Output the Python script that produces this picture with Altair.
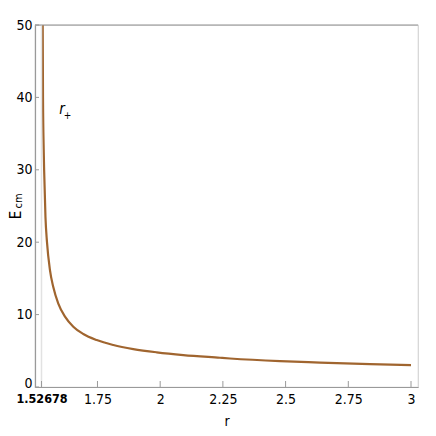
import altair as alt
import pandas as pd

# ---- data ----
r_vals = [1.5316, 1.5328, 1.5356, 1.5373, 1.5426, 1.5487, 1.5607, 1.5738,
          1.5938, 1.6205, 1.6536, 1.6934, 1.7469, 1.8131, 1.8928, 1.9861,
          2.0922, 2.2385, 2.2784, 2.4778, 2.6372, 2.8366, 3.0]
e_vals = [50, 40, 32.8, 30, 23.5, 20, 16.1, 13.8,
          11.5, 9.72, 8.33, 7.32, 6.48, 5.80, 5.24, 4.79,
          4.41, 4.04, 3.94, 3.57, 3.38, 3.17, 3.02]
r_plus = [1.52678]
x_ticks = [1.52678, 1.75, 2, 2.25, 2.5, 2.75, 3]
y_ticks = [0, 10, 20, 30, 40, 50]

W, H = 383, 362
FONT = "Liberation Sans Narrow, DejaVu Sans Condensed, Roboto Condensed, sans-serif"
AX = "#9a9a9a"

xs = alt.Scale(domain=[1.5009, 3.0279], nice=False, zero=False)
ys = alt.Scale(domain=[0, 50], nice=False)

curve_df = pd.DataFrame({"r": r_vals, "E": e_vals})

curve = alt.Chart(curve_df).mark_line(
    color="#A0652F", strokeWidth=2.2, interpolate="monotone", clip=True
).encode(
    x=alt.X("r:Q", scale=xs, axis=alt.Axis(
        values=x_ticks, labelExpr="toString(datum.value)", title="r", grid=False, ticks=False,
        domainColor=AX, domainWidth=1.2, labelColor="black", labelFont=FONT,
        labelFontSize={"condition": {"test": "datum.value < 1.6", "value": 12.5}, "value": 14},
        labelPadding=5,
        labelFontWeight={"condition": {"test": "datum.value < 1.6", "value": "bold"}, "value": "normal"},
        titleFont=FONT, titleFontSize=14, titleFontWeight="normal",
        titlePadding=8, titleColor="black", labelFlush=False)),
    y=alt.Y("E:Q", scale=ys, axis=alt.Axis(
        values=y_ticks, title=None, grid=False, ticks=False,
        domainColor=AX, domainWidth=1.2, labelColor="black", labelFont=FONT,
        labelFontSize=14, labelPadding=3, labelFlush=False,
        labelOffset={"condition": {"test": "datum.value == 0", "value": -4}, "value": 0}))
)

vline = alt.Chart(pd.DataFrame({"r": r_plus})).mark_rule(
    color="#e2e2e2", strokeWidth=1.5
).encode(
    x=alt.X("r:Q"),
    y=alt.value(0), y2=alt.value(H)
)

xtick = alt.Chart(pd.DataFrame({"r": x_ticks})).mark_rule(color=AX).encode(
    x=alt.X("r:Q"),
    y=alt.value(H), y2=alt.value(H - 6)
)
ytick = alt.Chart(pd.DataFrame({"E": y_ticks})).mark_rule(color=AX).encode(
    y=alt.Y("E:Q"),
    x=alt.value(0), x2=alt.value(4)
)
top = alt.Chart(pd.DataFrame({"a": [0]})).mark_rule(color=AX, strokeWidth=1.2).encode(
    x=alt.value(0), x2=alt.value(W), y=alt.value(0)
)

lab_r = alt.Chart(pd.DataFrame({"r": [1.6086], "E": [38.4], "t": ["r"]})).mark_text(
    font=FONT, fontSize=15, fontStyle="italic", color="black", baseline="middle"
).encode(x=alt.X("r:Q"), y=alt.Y("E:Q"), text="t:N")
lab_p = alt.Chart(pd.DataFrame({"r": [1.6310], "E": [37.5], "t": ["+"]})).mark_text(
    font=FONT, fontSize=10, color="black", baseline="middle"
).encode(x=alt.X("r:Q"), y=alt.Y("E:Q"), text="t:N")

ttl_E = alt.Chart(pd.DataFrame({"t": ["E"]})).mark_text(
    font=FONT, fontSize=15, angle=270, color="black", baseline="middle"
).encode(x=alt.value(-19), y=alt.value(190), text="t:N")
ttl_cm = alt.Chart(pd.DataFrame({"t": ["cm"]})).mark_text(
    font=FONT, fontSize=11, angle=270, color="black", baseline="middle"
).encode(x=alt.value(-16.5), y=alt.value(176), text="t:N")

chart = alt.layer(curve, vline, xtick, ytick, top, lab_r, lab_p, ttl_E, ttl_cm).properties(
    width=W, height=H,
    autosize=alt.AutoSizeParams(type="none"),
    padding={"left": 27, "top": 17, "right": 10, "bottom": 41},
    background="white"
).configure_view(stroke="#d4d4d4", strokeWidth=1.2)

chart.save("out.html", embed_options={"renderer": "svg", "actions": False})
